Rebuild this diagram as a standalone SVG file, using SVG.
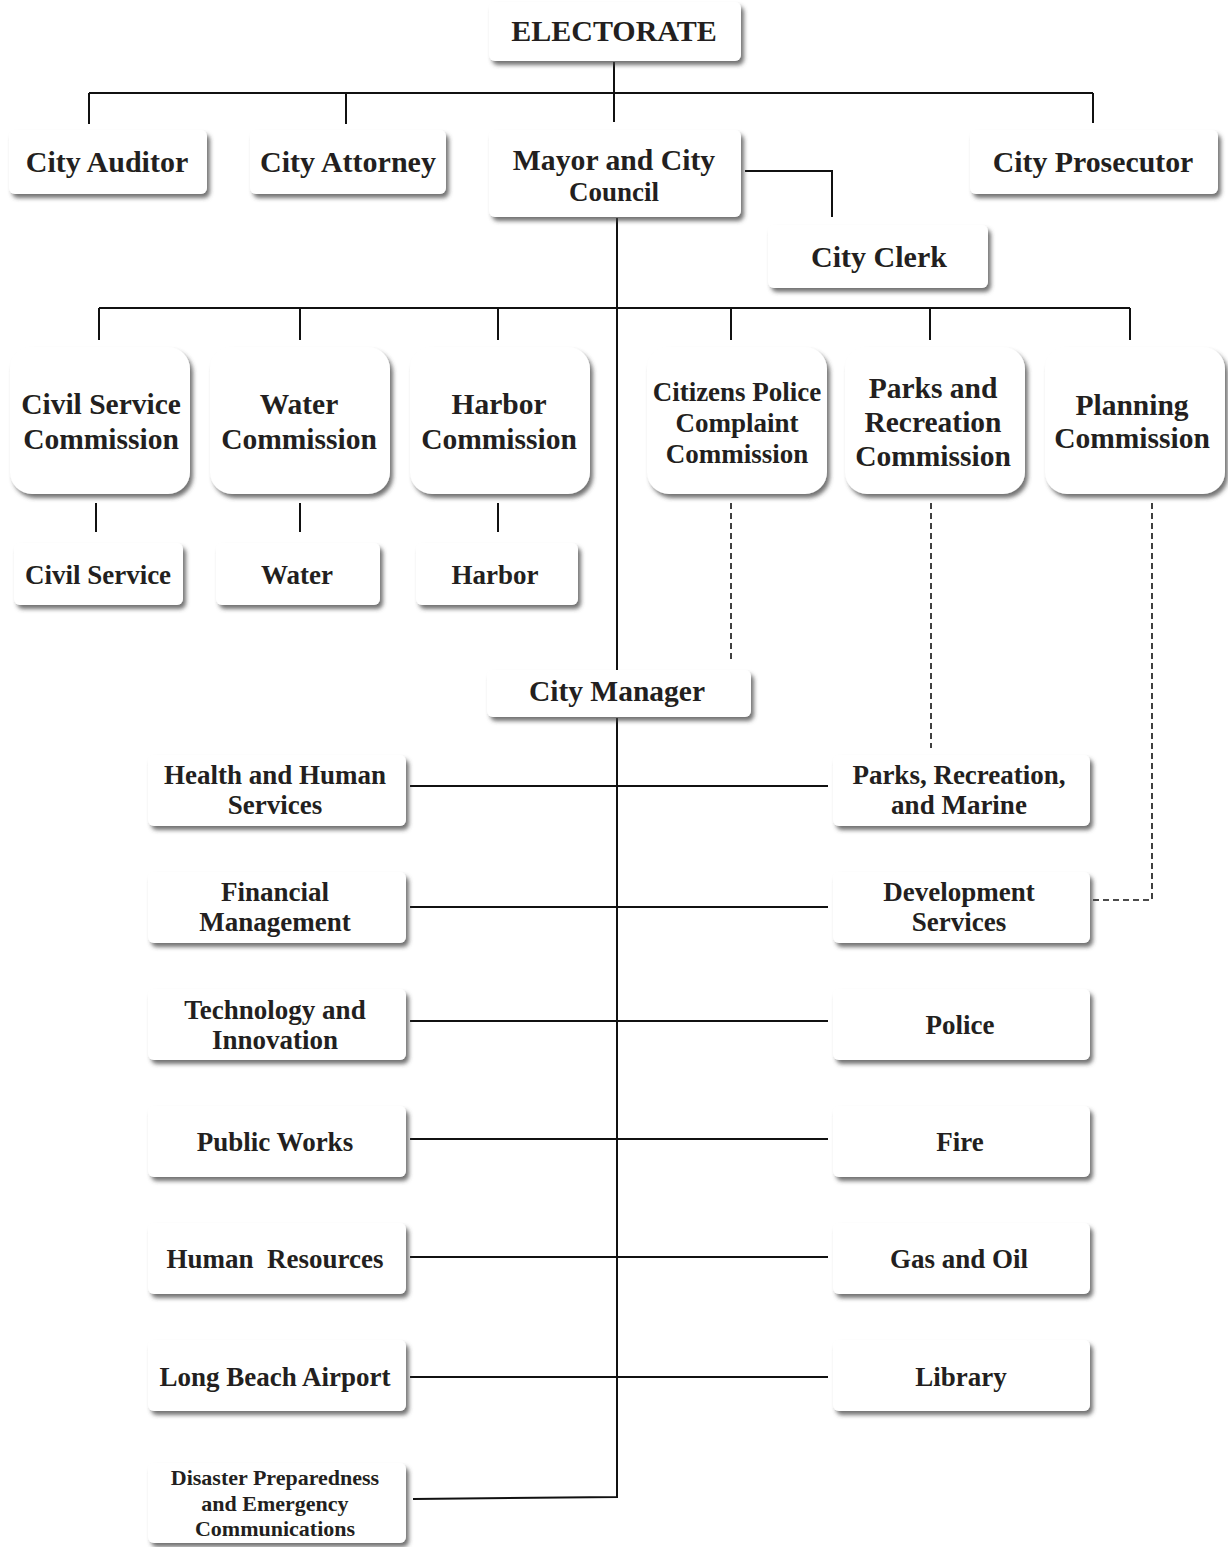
<svg xmlns="http://www.w3.org/2000/svg" width="1228" height="1547" viewBox="0 0 1228 1547">
<defs>
<filter id="sh" x="-10%" y="-10%" width="125%" height="140%">
<feDropShadow dx="3" dy="4" stdDeviation="2.2" flood-color="#444" flood-opacity="0.75"/>
</filter>
<style>
.b{fill:#fff;filter:url(#sh)}
.t{font-family:"Liberation Serif","Times New Roman",serif;font-weight:bold;fill:#231f20;text-anchor:middle}
.l{stroke:#111;stroke-width:2;fill:none}
.d{stroke:#111;stroke-width:1.6;fill:none;stroke-dasharray:6 4}
</style>
</defs>
<rect width="1228" height="1547" fill="#fff"/>
<g id="connectors">
<path class="l" d="M614 62V122M89 93H1093M89 93V124M346 93V124M1093 93V123"/>
<path class="l" d="M745 171H832V217"/>
<path class="l" d="M617 218V672M99 308H1130M99 308V340M300 308V340M498 308V340M731 308V340M930 308V340M1130 308V340"/>
<path class="l" d="M96 503V532M300 503V532M498 503V532"/>
<path class="d" d="M731 503V662M931 503V748M1152 503V900H1092"/>
<path class="l" d="M617 718V1497L413 1499"/>
<path class="l" d="M410 786H828M410 907H828M410 1021H828M410 1139H828M410 1257H828M410 1377H828"/>
</g>
<g id="n-electorate"><rect class="b" x="489" y="2" width="252" height="59" rx="6"/><text class="t" x="614" y="41" font-size="30">ELECTORATE</text></g>
<g id="n-auditor"><rect class="b" x="9" y="130" width="198" height="64" rx="6"/><text class="t" x="107" y="172" font-size="30">City Auditor</text></g>
<g id="n-attorney"><rect class="b" x="250" y="130" width="196" height="64" rx="6"/><text class="t" x="348" y="172" font-size="30">City Attorney</text></g>
<g id="n-mayor"><rect class="b" x="489" y="130" width="252" height="87" rx="6"/><text class="t" x="614" y="170" font-size="29.7">Mayor and City</text><text class="t" x="614" y="201" font-size="27">Council</text></g>
<g id="n-prosecutor"><rect class="b" x="970" y="130" width="248" height="64" rx="6"/><text class="t" x="1093" y="172" font-size="29.8">City Prosecutor</text></g>
<g id="n-clerk"><rect class="b" x="768" y="225" width="220" height="63" rx="6"/><text class="t" x="879" y="267" font-size="30">City Clerk</text></g>
<g id="n-csc"><rect class="b" x="10" y="347" width="180" height="147" rx="22"/><text class="t" x="101" y="414" font-size="29.5">Civil Service</text><text class="t" x="101" y="449" font-size="29.5">Commission</text></g>
<g id="n-wc"><rect class="b" x="210" y="347" width="180" height="147" rx="22"/><text class="t" x="299" y="414" font-size="29.5">Water</text><text class="t" x="299" y="449" font-size="29.5">Commission</text></g>
<g id="n-hc"><rect class="b" x="410" y="347" width="180" height="147" rx="22"/><text class="t" x="499" y="414" font-size="29.5">Harbor</text><text class="t" x="499" y="449" font-size="29.5">Commission</text></g>
<g id="n-cpcc"><rect class="b" x="647" y="347" width="180" height="147" rx="22"/><text class="t" x="737" y="401" font-size="27">Citizens Police</text><text class="t" x="737" y="432" font-size="27">Complaint</text><text class="t" x="737" y="463" font-size="27">Commission</text></g>
<g id="n-prc"><rect class="b" x="845" y="347" width="180" height="147" rx="22"/><text class="t" x="933" y="398" font-size="29.5">Parks and</text><text class="t" x="933" y="432" font-size="29.5">Recreation</text><text class="t" x="933" y="466" font-size="29.5">Commission</text></g>
<g id="n-pc"><rect class="b" x="1045" y="347" width="180" height="147" rx="22"/><text class="t" x="1132" y="415" font-size="29.5">Planning</text><text class="t" x="1132" y="448" font-size="29.5">Commission</text></g>
<g id="n-cs"><rect class="b" x="14" y="543" width="169" height="62" rx="6"/><text class="t" x="98" y="584" font-size="27">Civil Service</text></g>
<g id="n-water"><rect class="b" x="216" y="543" width="164" height="62" rx="6"/><text class="t" x="297" y="584" font-size="27">Water</text></g>
<g id="n-harbor"><rect class="b" x="416" y="543" width="162" height="62" rx="6"/><text class="t" x="495" y="584" font-size="27">Harbor</text></g>
<g id="n-manager"><rect class="b" x="487" y="670" width="264" height="47" rx="6"/><text class="t" x="617" y="701" font-size="29.5">City Manager</text></g>
<g id="n-hhs"><rect class="b" x="148" y="755" width="258" height="71" rx="6"/><text class="t" x="275" y="784" font-size="27">Health and Human</text><text class="t" x="275" y="814" font-size="27">Services</text></g>
<g id="n-fm"><rect class="b" x="148" y="872" width="258" height="71" rx="6"/><text class="t" x="275" y="901" font-size="27">Financial</text><text class="t" x="275" y="931" font-size="27">Management</text></g>
<g id="n-ti"><rect class="b" x="148" y="989" width="258" height="71" rx="6"/><text class="t" x="275" y="1019" font-size="27">Technology and</text><text class="t" x="275" y="1049" font-size="27">Innovation</text></g>
<g id="n-pw"><rect class="b" x="148" y="1106" width="258" height="71" rx="6"/><text class="t" x="275" y="1151" font-size="27">Public Works</text></g>
<g id="n-hr"><rect class="b" x="148" y="1223" width="258" height="71" rx="6"/><text class="t" x="275" y="1268" font-size="27" xml:space="preserve">Human  Resources</text></g>
<g id="n-lba"><rect class="b" x="148" y="1340" width="258" height="71" rx="6"/><text class="t" x="275" y="1386" font-size="27">Long Beach Airport</text></g>
<g id="n-dpec"><rect class="b" x="148" y="1463" width="258" height="80" rx="6"/><text class="t" x="275" y="1485" font-size="22">Disaster Preparedness</text><text class="t" x="275" y="1511" font-size="22">and Emergency</text><text class="t" x="275" y="1536" font-size="22">Communications</text></g>
<g id="n-prm"><rect class="b" x="833" y="755" width="257" height="71" rx="6"/><text class="t" x="959" y="784" font-size="27">Parks, Recreation,</text><text class="t" x="959" y="814" font-size="27">and Marine</text></g>
<g id="n-ds"><rect class="b" x="833" y="872" width="257" height="71" rx="6"/><text class="t" x="959" y="901" font-size="27">Development</text><text class="t" x="959" y="931" font-size="27">Services</text></g>
<g id="n-police"><rect class="b" x="833" y="989" width="257" height="71" rx="6"/><text class="t" x="960" y="1034" font-size="27">Police</text></g>
<g id="n-fire"><rect class="b" x="833" y="1106" width="257" height="71" rx="6"/><text class="t" x="960" y="1151" font-size="27">Fire</text></g>
<g id="n-gas"><rect class="b" x="833" y="1223" width="257" height="71" rx="6"/><text class="t" x="959" y="1268" font-size="27">Gas and Oil</text></g>
<g id="n-library"><rect class="b" x="833" y="1340" width="257" height="71" rx="6"/><text class="t" x="961" y="1386" font-size="27">Library</text></g>
</svg>
